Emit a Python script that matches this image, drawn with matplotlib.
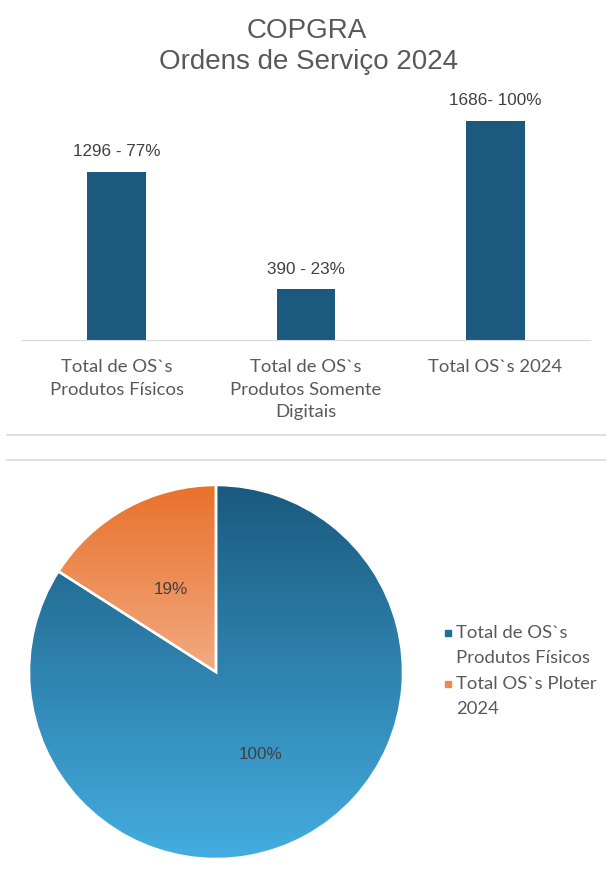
import numpy as np
import matplotlib
matplotlib.use("Agg")
import matplotlib.pyplot as plt
from matplotlib.lines import Line2D
from matplotlib.colors import LinearSegmentedColormap
from matplotlib.legend_handler import HandlerLine2D

plt.rcParams['font.family'] = ['Lato', 'DejaVu Sans']
num_font = ['Liberation Sans', 'DejaVu Sans']

# dados do gráfico de barras
bar_cats = ['Total de OS`s\nProdutos Físicos',
            'Total de OS`s\nProdutos Somente\nDigitais',
            'Total OS`s 2024']
bar_vals = [1296, 390, 1686]
bar_labels = ['1296 - 77%', '390 - 23%', '1686- 100%']

# dados do gráfico de pizza
pie_names = ['Total de OS`s\nProdutos Físicos', 'Total OS`s Ploter\n2024']
pie_vals = [1296, 246]
pie_labels = ['100%', '19%']

W, H = 606, 876
fig = plt.figure(figsize=(W / 100, H / 100), dpi=100)
fig.patch.set_facecolor('white')

grey = '#595959'
bar_color = '#1b5a7e'

# títulos
fig.text(0.507, 1 - 31 / H, 'COPGRA', ha='center', va='center', fontsize=20,
         color=grey, family=num_font)
fig.text(0.51, 1 - 62 / H, 'Ordens de Serviço 2024', ha='center', va='center',
         fontsize=20, color=grey, family=num_font)

# --- barras ---
ax = fig.add_axes([22 / W, 1 - 340 / H, 568 / W, 234 / H])
x = np.arange(len(bar_vals))
ax.bar(x, bar_vals, width=0.31, color=bar_color)
for xi, v, lab in zip(x, bar_vals, bar_labels):
    ax.annotate(lab, (xi, v), xytext=(0, 9), textcoords='offset points',
                ha='center', va='bottom', fontsize=12.3, color='#404040', family=num_font)
ax.set_xlim(-0.5, 2.5)
ax.set_ylim(0, 1800)
ax.set_yticks([])
ax.set_xticks(x)
ax.set_xticklabels(bar_cats, fontsize=13.3, color=grey, va='top')
for t in ax.get_xticklabels():
    t.set_linespacing(1.5)
ax.tick_params(axis='x', length=0, pad=14)
for s in ['top', 'right', 'left']:
    ax.spines[s].set_visible(False)
ax.spines['bottom'].set_color('#d9d9d9')

# linhas separadoras
for yy in [435, 460]:
    fig.add_artist(Line2D([7 / W, 1], [1 - yy / H, 1 - yy / H], color='#d9d9d9', lw=1.2))

# --- pizza ---
r = 187
cx, cy = 216, 672
pax = fig.add_axes([(cx - r) / W, 1 - (cy + r) / H, 2 * r / W, 2 * r / H])
wedges, texts = pax.pie(pie_vals, labels=pie_labels, labeldistance=0.5,
                        startangle=90, counterclock=False,
                        colors=['#2a7fb0', '#ec8a52'],
                        wedgeprops=dict(edgecolor='white', linewidth=1.8),
                        textprops=dict(fontsize=12.3, color='#404040', ha='center',
                                       va='center', family=num_font))

grads = [LinearSegmentedColormap.from_list('b', ['#44ade0', '#1a5a7e']),
         LinearSegmentedColormap.from_list('o', ['#f2aa82', '#e9712b'])]
extents = [(-1, 1, -1, 1), (-1, 1, 0, 1)]
g = np.linspace(0, 1, 256).reshape(-1, 1)
for w, cm, ext in zip(wedges, grads, extents):
    im = pax.imshow(g, cmap=cm, extent=ext, origin='lower',
                    aspect='auto', zorder=w.get_zorder())
    im.set_clip_path(w)
    w.set_facecolor('none')
    w.set_zorder(w.get_zorder() + 0.5)
for t in texts:
    t.set_zorder(5)
pax.set_xlim(-1, 1)
pax.set_ylim(-1, 1)
pax.set_axis_off()


# marcador da legenda alinhado à primeira linha do texto
class TopHandler(HandlerLine2D):
    def create_artists(self, legend, orig_handle, xdescent, ydescent, width, height,
                       fontsize, trans):
        arts = super().create_artists(legend, orig_handle, xdescent, ydescent, width,
                                      height, fontsize, trans)
        for a in arts:
            a.set_ydata(np.asarray(a.get_ydata()) + 0.68 * fontsize)
        return arts


handles = [Line2D([], [], marker='s', ls='none', markersize=4.5, color=c)
           for c in ['#1f6f9e', '#ec8a52']]
leg = fig.legend(handles, pie_names, loc='upper left', bbox_to_anchor=(425 / W, 1 - 608 / H),
                 frameon=False, fontsize=13.3, labelcolor=grey, handletextpad=0.1,
                 handlelength=0.7, labelspacing=0.5, handler_map={Line2D: TopHandler()})
for t in leg.get_texts():
    t.set_linespacing(1.75)

fig.savefig('out.png', dpi=100)
